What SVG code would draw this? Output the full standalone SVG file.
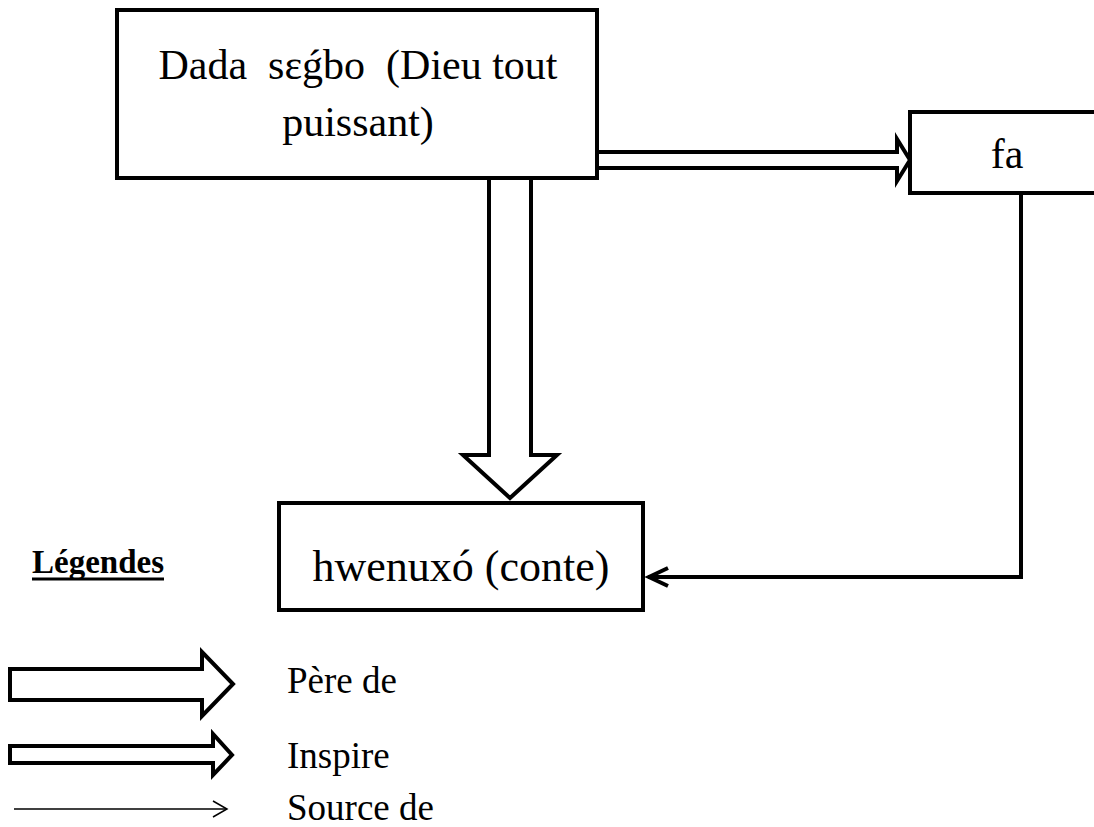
<svg xmlns="http://www.w3.org/2000/svg" width="1094" height="827" viewBox="0 0 1094 827">
<style>
.box{fill:#fff;stroke:#000;stroke-width:4}
.harrow{fill:#fff;stroke:#000;stroke-width:4;stroke-linejoin:miter}
.line{fill:none;stroke:#000;stroke-width:4}
.thin{fill:none;stroke:#000;stroke-width:1.5}
.t{font-family:"Liberation Serif","DejaVu Serif",serif;font-size:37px;fill:#000;white-space:pre}
.n{font-size:42px}
.leg{font-family:"Liberation Serif",serif;font-size:33px;font-weight:bold;fill:#000}
</style>
<rect width="1094" height="827" fill="#fff"/>
<g id="connectors">
<polygon class="harrow" points="597,152 897,152 897,139 910,160 897,181 897,168 597,168"/>
<polygon class="harrow" points="489,178 531,178 531,455 557,455 510,498 463,455 489,455"/>
<polyline class="line" points="1021,193 1021,577 648,577"/>
<polyline class="line" points="668,568 649,577 668,586"/>
</g>
<g id="node-dada">
<rect class="box" x="117" y="10" width="480" height="168"/>
<text class="t n" x="358" y="79" text-anchor="middle" xml:space="preserve">Dada  sɛǵbo  (Dieu tout</text>
<text class="t n" x="358" y="136" text-anchor="middle">puissant)</text>
</g>
<g id="node-fa">
<rect class="box" x="910" y="112" width="200" height="81"/>
<text class="t n" x="1007" y="168" text-anchor="middle">fa</text>
</g>
<g id="node-hwenuxo">
<rect class="box" x="279" y="503" width="364" height="107"/>
<text class="t n" x="461" y="581" text-anchor="middle" style="font-size:44px">hwenuxó (conte)</text>
</g>
<g id="legend">
<text class="leg" x="32" y="573">Légendes</text>
<line x1="32" y1="579" x2="164" y2="579" stroke="#000" stroke-width="3"/>
<polygon class="harrow" points="10,669 202,669 202,652 233,684 202,716 202,700 10,700"/>
<text class="t" x="287" y="693">Père de</text>
<polygon class="harrow" points="10,746 213,746 213,734 232,755 213,775 213,763 10,763"/>
<text class="t" x="287" y="768">Inspire</text>
<line class="thin" x1="14" y1="809" x2="226" y2="809"/>
<polyline class="thin" points="213,801 227,809 213,817"/>
<text class="t" x="287" y="820">Source de</text>
</g>
</svg>
